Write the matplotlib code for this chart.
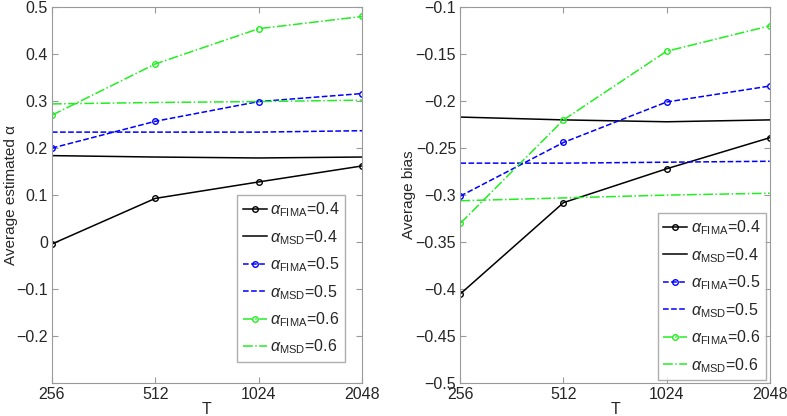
import matplotlib
matplotlib.use("Agg")
import matplotlib.pyplot as plt
from matplotlib.ticker import FixedLocator, FixedFormatter

plt.rcParams["font.family"] = ["Liberation Sans", "DejaVu Sans"]
plt.rcParams["mathtext.fontset"] = "custom"
plt.rcParams["mathtext.rm"] = "Liberation Sans"
plt.rcParams["mathtext.it"] = "Liberation Sans:italic"

T = [256, 512, 1024, 2048]

# left panel: average estimated alpha
est_fima_04 = [-0.004, 0.093, 0.128, 0.162]
est_msd_04 = [0.184, 0.181, 0.179, 0.181]
est_fima_05 = [0.200, 0.257, 0.299, 0.316]
est_msd_05 = [0.234, 0.234, 0.234, 0.237]
est_fima_06 = [0.270, 0.379, 0.454, 0.480]
est_msd_06 = [0.294, 0.297, 0.299, 0.302]

# right panel: average bias
bias_fima_04 = [-0.405, -0.308, -0.272, -0.239]
bias_msd_04 = [-0.217, -0.220, -0.222, -0.220]
bias_fima_05 = [-0.301, -0.244, -0.201, -0.184]
bias_msd_05 = [-0.266, -0.266, -0.265, -0.264]
bias_fima_06 = [-0.330, -0.220, -0.147, -0.120]
bias_msd_06 = [-0.306, -0.303, -0.300, -0.298]

labels = [r"$\alpha_{\mathrm{FIMA}}$=0.4", r"$\alpha_{\mathrm{MSD}}$=0.4",
          r"$\alpha_{\mathrm{FIMA}}$=0.5", r"$\alpha_{\mathrm{MSD}}$=0.5",
          r"$\alpha_{\mathrm{FIMA}}$=0.6", r"$\alpha_{\mathrm{MSD}}$=0.6"]

GREEN = "#22ee22"
styles = [
    dict(color="black", ls="-", marker="o"),
    dict(color="black", ls="-"),
    dict(color="blue", ls="--", marker="o"),
    dict(color="blue", ls="--"),
    dict(color=GREEN, ls="-.", marker="o"),
    dict(color=GREEN, ls="-."),
]

TXT = "#262626"
SPINE = "#9a9a9a"


def draw(ax, series, yticks, ylabels, ylim, ylabel, ylab_x, leg_anchor):
    for s, st, lab in zip(series, styles, labels):
        ax.plot(T, s, lw=1.1, ms=4, mfc="none", mew=1.0, label=lab, **st)
    ax.set_xscale("log", base=2)
    ax.set_xlim(256, 2048)
    ax.xaxis.set_major_locator(FixedLocator(T))
    ax.xaxis.set_major_formatter(FixedFormatter([str(t) for t in T]))
    ax.xaxis.set_minor_locator(FixedLocator([]))
    ax.set_ylim(*ylim)
    ax.yaxis.set_major_locator(FixedLocator(yticks))
    ax.yaxis.set_major_formatter(FixedFormatter(ylabels))
    ax.tick_params(direction="in", top=True, right=True, length=4,
                   color=SPINE, labelcolor=TXT, labelsize=11.5, pad=3)
    for sp in ax.spines.values():
        sp.set_color(SPINE)
    ax.set_xlabel("T", color=TXT, fontsize=11.5, labelpad=0)
    ax.set_ylabel(ylabel, color=TXT, fontsize=11)
    ax.yaxis.set_label_coords(ylab_x, 0.5)
    leg = ax.legend(loc="lower right", bbox_to_anchor=leg_anchor, fontsize=11.5,
                    frameon=True, fancybox=False, edgecolor=SPINE,
                    handlelength=1.5, handletextpad=0.2, labelspacing=0.55,
                    borderpad=0.35, borderaxespad=0)
    leg.get_frame().set_linewidth(1.0)
    for t in leg.get_texts():
        t.set_color(TXT)


fig = plt.figure(figsize=(7.87, 4.16), dpi=100)
ax1 = fig.add_axes([0.066, 0.079, 0.394, 0.904])
ax2 = fig.add_axes([0.585, 0.079, 0.393, 0.904])

draw(ax1, [est_fima_04, est_msd_04, est_fima_05, est_msd_05, est_fima_06, est_msd_06],
     [-0.3, -0.2, -0.1, 0, 0.1, 0.2, 0.3, 0.4, 0.5],
     ["", "\u22120.2", "\u22120.1", "0", "0.1", "0.2", "0.3", "0.4", "0.5"],
     (-0.3, 0.5), "Average estimated \u03b1", -0.11, (0.945, 0.056))

draw(ax2, [bias_fima_04, bias_msd_04, bias_fima_05, bias_msd_05, bias_fima_06, bias_msd_06],
     [-0.5, -0.45, -0.4, -0.35, -0.3, -0.25, -0.2, -0.15, -0.1],
     ["\u22120.5", "\u22120.45", "\u22120.4", "\u22120.35", "\u22120.3",
      "\u22120.25", "\u22120.2", "\u22120.15", "\u22120.1"],
     (-0.5, -0.1), "Average bias", -0.145, (0.987, 0.008))

fig.savefig("out.png", dpi=100)
